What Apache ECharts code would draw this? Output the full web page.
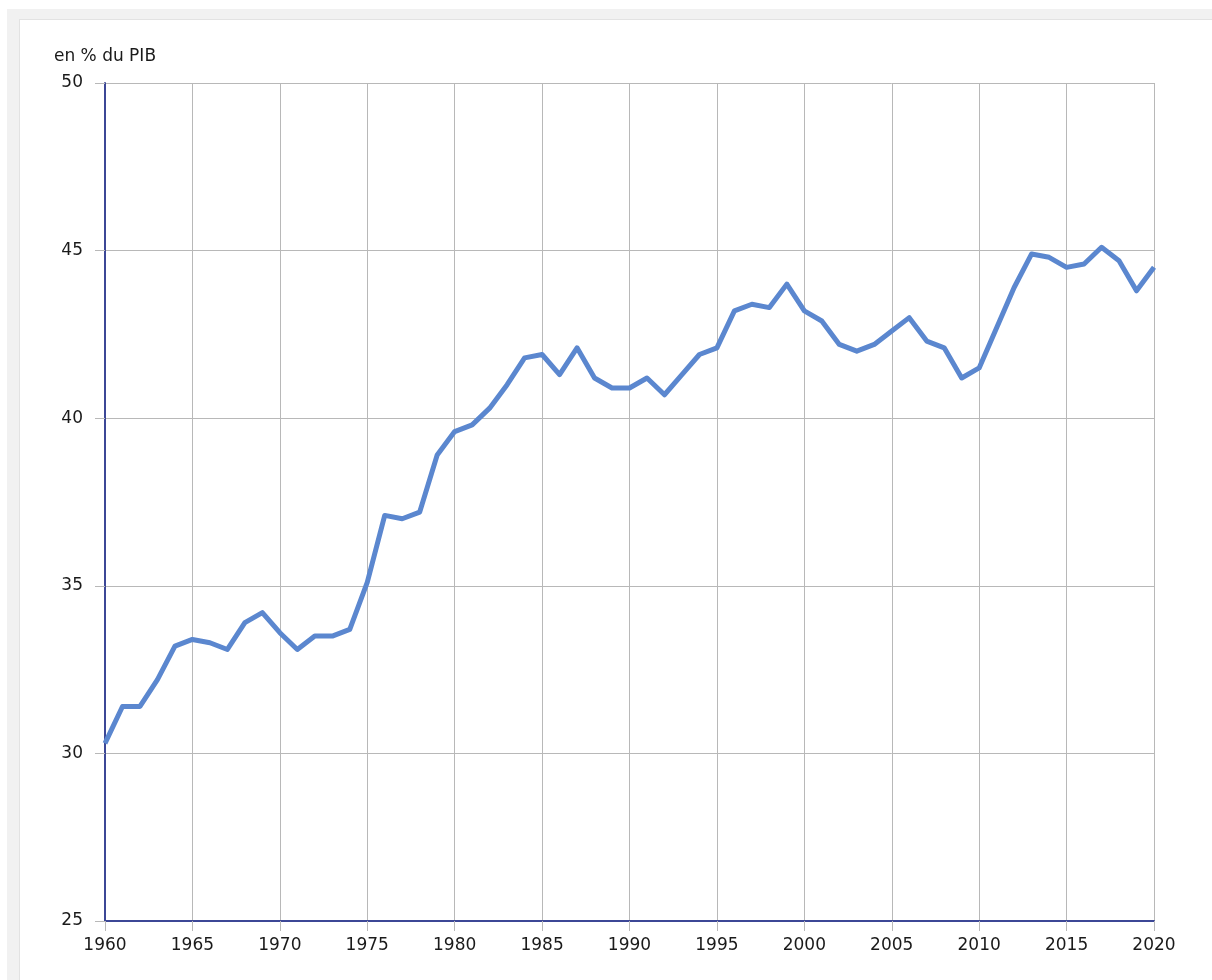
<!DOCTYPE html>
<html lang="fr">
<head>
    <meta charset="UTF-8">
    <title>Prélèvements obligatoires</title>
    <style>
        html, body { margin: 0; padding: 0; background: #fff; overflow: hidden; }
        .back { position: absolute; left: 7px; top: 9px; width: 1220px; height: 990px; background: #f1f1f1; }
        .panel { position: absolute; left: 19px; top: 19px; width: 1220px; height: 990px; background: #fff; border: 1px solid #e2e2e2; }
        #chart { position: absolute; left: 0; top: 0; width: 1212px; height: 980px; }
    </style>
</head>
<body>
<div class="back"></div>
<div class="panel"></div>
<div id="chart"></div>
<script src="https://cdn.jsdelivr.net/npm/echarts@6/dist/echarts.min.js"></script>
<script>
    // années et taux (en % du PIB)
    var years = [];
    for (var y = 1960; y <= 2020; y++) years.push(y);
    var values = [
        30.3, 31.4, 31.4, 32.2, 33.2, 33.4, 33.3, 33.1, 33.9, 34.2,
        33.6, 33.1, 33.5, 33.5, 33.7, 35.1, 37.1, 37.0, 37.2, 38.9,
        39.6, 39.8, 40.3, 41.0, 41.8, 41.9, 41.3, 42.1, 41.2, 40.9,
        40.9, 41.2, 40.7, 41.3, 41.9, 42.1, 43.2, 43.4, 43.3, 44.0,
        43.2, 42.9, 42.2, 42.0, 42.2, 42.6, 43.0, 42.3, 42.1, 41.2,
        41.5, 42.7, 43.9, 44.9, 44.8, 44.5, 44.6, 45.1, 44.7, 43.8,
        44.5
    ];
    var yTicks = [25, 30, 35, 40, 45, 50];
    var xTicks = [1960, 1965, 1970, 1975, 1980, 1985, 1990, 1995, 2000, 2005, 2010, 2015, 2020];

    var points = years.map(function (yr, i) { return [yr, values[i]]; });

    var chart = echarts.init(document.getElementById('chart'), null, { renderer: 'canvas' });
    var font = '"DejaVu Sans", "Open Sans", sans-serif';
    var option = {
        backgroundColor: 'transparent',
        animation: false,
        grid: { left: 105, top: 83, width: 1049, height: 838, containLabel: false },
        xAxis: {
            type: 'value',
            min: xTicks[0],
            max: xTicks[xTicks.length - 1],
            interval: 5,
            axisLine: { show: true, onZero: false, lineStyle: { color: '#3c4796', width: 2 } },
            axisTick: { show: true, length: 10, lineStyle: { color: '#b8b8b8' } },
            splitLine: { show: true, lineStyle: { color: '#b8b8b8', width: 1 } },
            axisLabel: {
                color: '#1a1a1a', fontSize: 17, fontFamily: font, margin: 16,
                formatter: function (v) { return String(v); }
            }
        },
        yAxis: {
            type: 'value',
            min: yTicks[0],
            max: yTicks[yTicks.length - 1],
            interval: 5,
            name: 'en % du PIB',
            nameLocation: 'end',
            nameGap: 18,
            nameTextStyle: { color: '#1a1a1a', fontSize: 17, fontFamily: font },
            axisLine: { show: true, lineStyle: { color: '#3c4796', width: 2 } },
            axisTick: { show: true, length: 10, lineStyle: { color: '#b8b8b8' } },
            splitLine: { show: true, lineStyle: { color: '#b8b8b8', width: 1 } },
            axisLabel: { color: '#1a1a1a', fontSize: 17, fontFamily: font, margin: 22 }
        },
        series: [{
            type: 'line',
            data: points,
            showSymbol: false,
            symbol: 'none',
            lineStyle: { color: '#5b87cf', width: 5, join: 'round' },
            z: 3
        }]
    };
    chart.setOption(option);
</script>
</body>
</html>
